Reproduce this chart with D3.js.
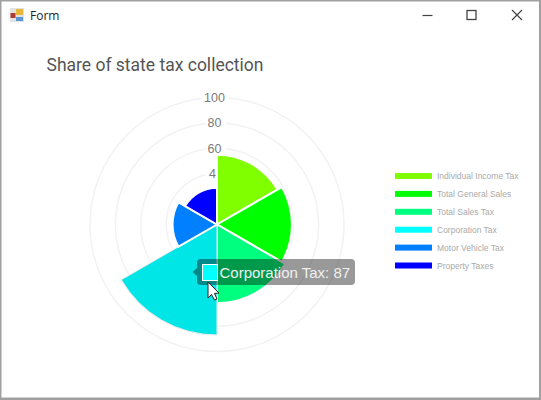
<!DOCTYPE html>
<html><head><meta charset="utf-8">
<script src="https://cdn.jsdelivr.net/npm/d3@7"></script>
<style>html,body{margin:0;padding:0;background:#fff;overflow:hidden}svg{display:block}</style>
</head><body>
<svg id="c" width="541" height="400"></svg>
<script>
const categories = ["Individual Income Tax","Total General Sales","Total Sales Tax","Corporation Tax","Motor Vehicle Tax","Property Taxes"];
const values = [55, 59, 62, 87, 35, 29];
const colors = ["#7FFF00","#00FF00","#00FF7F","#00FFFF","#007FFF","#0000FF"];
const ringTicks = [20,40,60,80,100];
const labelTicks = [40,60,80,100];
const tickLabels = ["4","60","80","100"];
const hoverIndex = 3;
const hoverColor = "#00E5E5";

const svg = d3.select("#c");
const cx = 217, cy = 224.5;
const r = d3.scaleLinear().domain([0,100]).range([0,127]);
const angle = d3.scaleBand().domain(categories).range([0,2*Math.PI]);

// window chrome
svg.append("rect").attr("width",541).attr("height",400).attr("fill","#a0a0a0");
svg.append("rect").attr("x",1.5).attr("y",1.5).attr("width",537.5).attr("height",396).attr("fill","#fff");
const icon = svg.append("g");
icon.append("rect").attr("x",10).attr("y",8).attr("width",14).attr("height",14).attr("fill","#e2e2e2");
icon.append("rect").attr("x",16).attr("y",9).attr("width",7).attr("height",6).attr("fill","#e8b83c");
icon.append("rect").attr("x",10.5).attr("y",13).attr("width",5).attr("height",5).attr("fill","#b03a30");
icon.append("rect").attr("x",16).attr("y",17).attr("width",7).attr("height",4).attr("fill","#5a96d8");
svg.append("text").attr("x",30).attr("y",20).attr("font-family","'Open Sans',sans-serif").attr("font-size",12).attr("fill","#222").text("Form");
svg.append("line").attr("x1",422.5).attr("x2",432.5).attr("y1",15.5).attr("y2",15.5).attr("stroke","#444").attr("stroke-width",1.2);
svg.append("rect").attr("x",467).attr("y",10.5).attr("width",9).attr("height",9).attr("fill","none").attr("stroke","#444").attr("stroke-width",1.3);
svg.append("path").attr("d","M512 10L522 20M522 10L512 20").attr("stroke","#444").attr("stroke-width",1.2).attr("fill","none");

svg.append("text").attr("x",46.5).attr("y",71).attr("font-family","Roboto,sans-serif").attr("font-size",17.5).attr("fill","#555").text("Share of state tax collection");

const g = svg.append("g").attr("transform",`translate(${cx},${cy})`);
g.selectAll("circle.ring").data(ringTicks).join("circle").attr("class","ring")
  .attr("r",d=>r(d)).attr("fill","none").attr("stroke","#f2f2f2").attr("stroke-width",1.5);
g.selectAll("rect.bd").data(labelTicks).join("rect").attr("class","bd")
  .attr("x",d=>d===100?-15:-11).attr("y",d=>-r(d)-8).attr("width",d=>d===100?27:20).attr("height",16).attr("fill","#fff");
g.selectAll("text.tick").data(labelTicks).join("text").attr("class","tick")
  .attr("x",(d,i)=>tickLabels[i].length===1?-4.5:-2.5)
  .attr("y",d=>-r(d)+4.5).attr("text-anchor","middle")
  .attr("font-family","'Liberation Sans',Arial,sans-serif").attr("font-size",12.5).attr("fill","#7a7a7a").text((d,i)=>tickLabels[i]);

const arc = d3.arc().innerRadius(0);
g.selectAll("path.w").data(categories).join("path").attr("class","w")
  .attr("d",(d,i)=>arc({startAngle:angle(d),endAngle:angle(d)+angle.bandwidth(),outerRadius:r(values[i])}))
  .attr("fill",(d,i)=>i===hoverIndex?hoverColor:colors[i])
  .attr("stroke",(d,i)=>i===hoverIndex?"#ececec":"#fff").attr("stroke-width",(d,i)=>i===hoverIndex?1:2);

// legend
const ly = d3.scalePoint().domain(categories).range([176,265.5]);
const lg = svg.append("g");
lg.selectAll("rect").data(categories).join("rect").attr("x",395).attr("width",37).attr("y",d=>ly(d)-3).attr("height",6).attr("fill",(d,i)=>colors[i]);
lg.selectAll("text").data(categories).join("text").attr("x",437).attr("y",d=>ly(d)+3)
  .attr("font-family","'Liberation Sans',Arial,sans-serif").attr("font-size",8.5).attr("fill","#aaa").text(d=>d);

// tooltip
const tip = svg.append("g");
tip.append("path").attr("d","M197 268L192.5 272L197 276Z").attr("fill","rgba(0,0,0,.4)");
tip.append("rect").attr("x",197).attr("y",259).attr("width",158).attr("height",26).attr("rx",4).attr("fill","rgba(0,0,0,.4)");
tip.append("rect").attr("x",202.5).attr("y",264.5).attr("width",15).attr("height",16).attr("fill",colors[hoverIndex]).attr("stroke","#fff").attr("stroke-width",1);
tip.append("text").attr("x",219.5).attr("y",277.5).attr("font-family","'Liberation Sans',Arial,sans-serif").attr("font-size",15).attr("fill","#f0f0f0")
  .text(`${categories[hoverIndex]}: ${values[hoverIndex]}`);

// mouse cursor
svg.append("path").attr("d","M208 282L208 298L211.5 294.5L214.5 300L217 299L214.5 293.5L219 293Z")
  .attr("fill","#fff").attr("stroke","#222").attr("stroke-width",1);
</script>
</body></html>
